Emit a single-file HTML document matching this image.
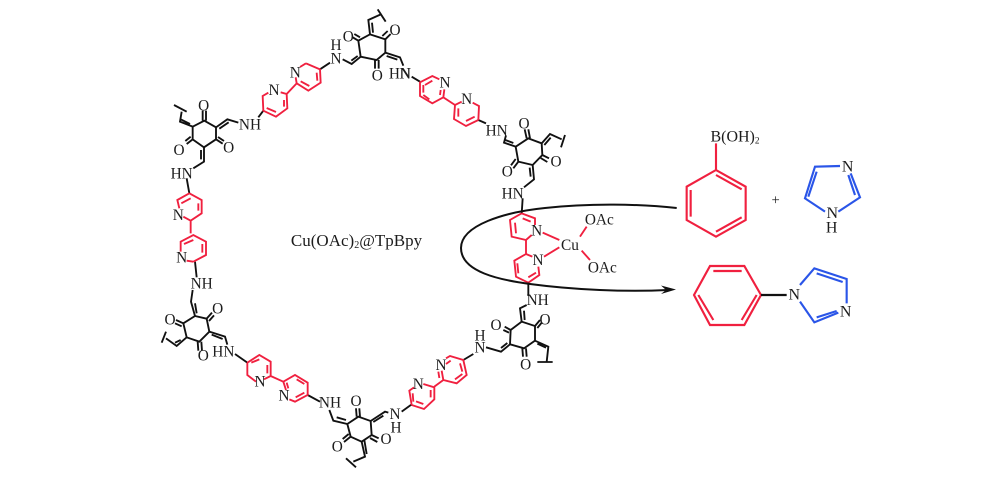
<!DOCTYPE html>
<html><head><meta charset="utf-8">
<style>
html,body{margin:0;padding:0;background:#fff;width:1000px;height:481px;overflow:hidden}
svg{display:block}
text{font-family:"Liberation Serif",serif;fill:#1c1c1c;text-anchor:middle;font-size:46px}
path{fill:none;stroke-linejoin:miter;stroke-linecap:butt}
.k path,path.k{stroke:#111;stroke-width:5.6}
path.r{stroke:#f0203f;stroke-width:5.6}
.big path.r,.big path.b,.big path.k{stroke-width:6.4}
path.b{stroke:#2a55e8;stroke-width:5.6}
</style></head><body>
<svg width="1000" height="481" viewBox="0 0 1000 481" xmlns="http://www.w3.org/2000/svg">

<!-- upper-left part -->
<g transform="translate(150,0) scale(.33333)">
<g class="k">
<path d="M660 103L706 118L706 158L680 180L632 170L625 122Z"/>
<path d="M706 118L722 102M697 108L713 93M625 122L608 112M630 112L613 102M675 180V206M686 180V206"/>
<path d="M660 103L655 60L695 42M669 98L666 68M683 28L707 65"/>
<path d="M706 158L750 172L760 197M710 168L742 179"/>
<path d="M632 170L605 192L578 178M623 168L604 182"/>
<path d="M163 362L198 382L198 418L162 442L128 418L128 380Z"/>
<path d="M158 362V332M168 362V332M198 418L218 431M204 411L222 423M128 418L110 432M122 410L106 423"/>
<path d="M198 382L232 358L265 368M208 386L236 367"/>
<path d="M128 380L90 365L95 335M120 372L92 358M72 315L110 335"/>
<path d="M162 442L162 485L130 505M153 450V478"/>
<path d="M110 535L118 580M340 332L325 352M510 208L540 188"/>
</g>
<path class="r" d="M468 190L510 208L512 248L475 272L440 250L437 232M450 201L468 190M440 250L410 282L412 325L378 350L340 332L338 288L355 278M392 277L410 282M500 218L502 242M478 258L452 244M402 300L402 320M378 336L350 324"/>
<path class="r" d="M118 580L155 600L155 640L122 662L100 650M88 625L82 600L118 580M145 610V632M122 595L94 610M122 662V700"/>
<text x="595" y="124">O</text><text x="735" y="105">O</text><text x="682" y="241">O</text>
<text x="558" y="150">H</text><text x="558" y="191">N</text><text x="750" y="236">HN</text>
<text x="436" y="232">N</text><text x="372" y="285">N</text><text x="300" y="388">NH</text>
<text x="161" y="331">O</text><text x="236" y="458">O</text><text x="87" y="465">O</text>
<text x="95" y="535">HN</text><text x="85" y="660">N</text>
</g>

<!-- lower-left part -->
<g transform="translate(140,240) scale(.33333)">
<g class="k">
<path d="M165 228L200 236L208 275L178 305L140 292L130 250Z"/>
<path d="M200 236L216 218M207 243L222 226M130 250L108 240M125 259L105 250M173 305L175 332M184 305L186 332"/>
<path d="M158 150L153 185L165 228M165 190L170 220"/>
<path d="M208 275L255 290L262 314M215 284L248 297"/>
<path d="M140 292L110 318L78 295M122 300L105 308M65 308L78 275"/>
<path d="M285 342L322 368M165 65L170 112M503 465L540 485"/>
<path d="M622 552L655 530L692 543L695 585L665 605L632 590Z"/>
<path d="M650 530L648 505M660 530L658 505M695 585L716 595M690 594L712 606M632 590L612 606M626 582L608 597"/>
<path d="M568 510L580 542L622 552M590 532L618 540"/>
<path d="M692 543L735 515L745 518M700 546L730 527"/>
<path d="M665 605L675 650L640 665M673 600L680 642M618 655L648 682"/>
</g>
<path class="r" d="M322 368L358 345L392 365L392 408L372 418M348 425L322 405V368M334 368L358 358M382 375V400M392 408L430 425L465 405L503 428L503 465L465 485L448 478M438 450L430 425M440 428L445 445M470 418L493 432M493 458L467 472"/>
<path class="r" d="M160 65L198 45V5L160 -15L122 5V35M140 62L160 65M187 12V38M160 0L132 12"/>
<text x="185" y="145">NH</text><text x="125" y="67">N</text>
<text x="233" y="220">O</text><text x="90" y="253">O</text><text x="190" y="362">O</text>
<text x="250" y="350">HN</text><text x="360" y="440">N</text><text x="432" y="482">N</text>
<text x="570" y="502">NH</text><text x="648" y="498">O</text><text x="738" y="612">O</text><text x="592" y="635">O</text>
<text x="765" y="537">N</text><text x="768" y="577">H</text>
</g>

<!-- upper-right part -->
<g transform="translate(400,40) scale(.33333)">
<g class="k">
<path d="M385 295L425 310L427 345L398 375L355 365L347 320Z"/>
<path d="M380 295L374 268M390 295L385 268M427 345L447 355M422 354L442 366M355 365L340 385M347 357L333 376"/>
<path d="M347 320L312 308L318 286M340 309L316 300"/>
<path d="M425 310L450 282L485 298M433 315L452 293M495 285L483 322"/>
<path d="M398 375L402 418L372 442M389 383L392 410"/>
<path d="M368 475L365 522M258 250L235 240M60 125L35 110"/>
</g>
<path class="r" d="M235 240L237 198L218 188M185 185L165 195L162 237L198 258L235 240M175 205V230M198 243L224 230M165 195L130 172L97 190L60 168V127L97 108L118 118M130 172L133 148M120 165L122 150M88 178L70 165M70 135V158M97 122L75 135"/>
<path class="r" d="M365 520L405 535V555M395 585L378 600L335 590L330 540L365 520M345 548L348 580M368 535L392 545M378 600V642L343 662L348 710L385 728L418 705L415 680M378 642L397 650M352 670L355 700M385 712L408 698"/>
<path class="r" d="M428 578L478 600M432 650L478 622M540 590L560 560M545 632L570 660"/>
<text x="15" y="116">N</text><text x="135" y="142">N</text><text x="200" y="192">N</text><text x="290" y="286">HN</text>
<text x="372" y="265">O</text><text x="468" y="380">O</text><text x="322" y="410">O</text><text x="338" y="475">HN</text>
<text x="410" y="587">N</text><text x="414" y="675">N</text><text x="510" y="630">Cu</text>
<text x="598" y="554">OAc</text><text x="607" y="697">OAc</text>
</g>

<!-- lower-right part -->
<g transform="translate(400,240) scale(.33333)">
<g class="k">
<path d="M330 313L332 270L365 245L405 258L405 302L372 325Z"/>
<path d="M332 270L314 260M327 278L310 270M405 258L420 240M412 264L426 247M367 325L369 350M378 325L380 350"/>
<path d="M365 245L360 205L380 195M374 240L372 212"/>
<path d="M405 302L445 320L440 366M412 311L438 323M412 366H458"/>
<path d="M258 322L303 335L330 313M303 324L322 309"/>
<path d="M385 168V128M190 360L220 342M5 515L35 493"/>
</g>
<path class="r" d="M35 495L28 452L42 442M70 432L103 442V478L72 507L35 495M40 485L38 460M92 450V472M70 492L48 484M103 440L130 420L170 430L200 405L190 360L150 348L138 355M130 420L125 392M118 414L115 395M165 418L187 402M180 370L187 395M152 362L138 372"/>
<text x="240" y="302">H</text><text x="240" y="338">N</text><text x="123" y="390">N</text><text x="55" y="447">N</text>
<text x="413" y="195">NH</text><text x="288" y="270">O</text><text x="435" y="253">O</text><text x="377" y="389">O</text>
</g>

<!-- reaction arrow -->
<path d="M676.7 208C640 204 590 203 545 208C505 212 461 225 461 248C461 272 500 280 530 284C575 290 625 292 668 290" stroke="#111" stroke-width="2" fill="none"/>
<path d="M676 289.5L661 285.5L666 290L661 294Z" style="stroke:none;fill:#111"/>

<text x="356.5" y="246" style="font-size:17px">Cu(OAc)<tspan style="font-size:10px" dy="2">2</tspan><tspan dy="-2">@TpBpy</tspan></text>

<!-- reagents and product -->
<g class="big" transform="translate(660,110) scale(.33333)">
<path class="r" d="M168 100V180L257 230V330L168 380L80 330V230L168 180M168 195L245 238M245 322L168 365M92 320V240"/>
<path class="b" d="M540 168L465 170L435 265L495 305M470 185L445 260M535 305L600 262L572 190M565 195L585 255"/>
<path class="r" d="M150 468H253L303 555L253 645H150L102 555ZM160 483H245M290 555L245 630M160 630L115 555"/>
<path class="k" d="M303 555H380"/>
<path class="b" d="M420 525L463 475L560 507V580M535 608L463 637L420 575M470 490L548 516M470 622L530 603"/>
<text x="225" y="95" style="font-size:48px">B(OH)<tspan style="font-size:28px" dy="6">2</tspan></text>
<text x="347" y="284" style="font-size:44px">+</text>
<text x="563" y="184" style="font-size:48px">N</text><text x="517" y="324" style="font-size:48px">N</text><text x="515" y="367" style="font-size:48px">H</text>
<text x="403" y="569" style="font-size:48px">N</text><text x="557" y="619" style="font-size:48px">N</text>
</g>
</svg>
</body></html>
